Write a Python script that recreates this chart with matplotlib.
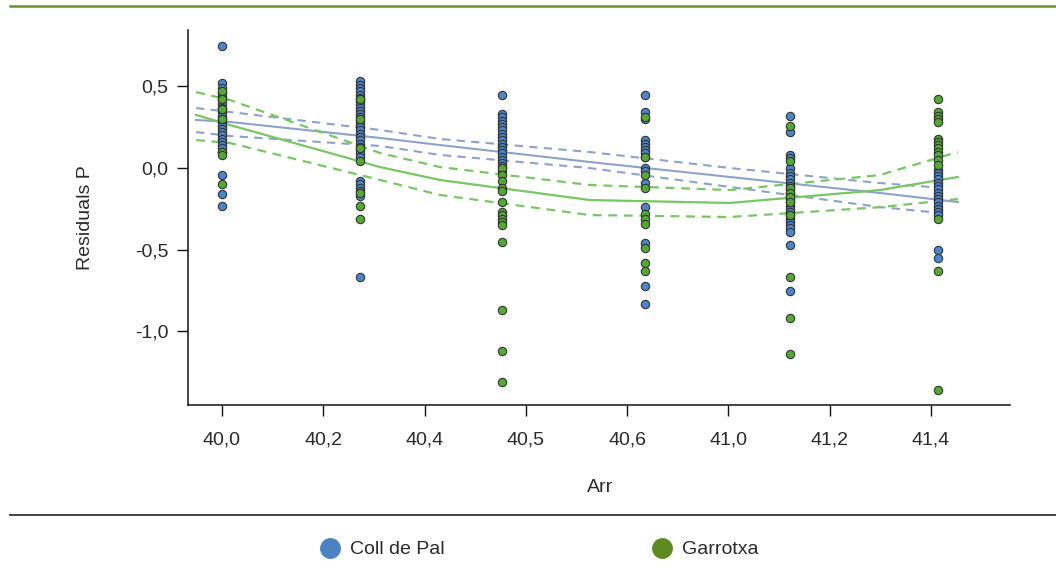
import matplotlib
matplotlib.use("Agg")
import matplotlib.pyplot as plt
from matplotlib.lines import Line2D
import numpy as np

plt.rcParams['font.family'] = ['Liberation Sans', 'DejaVu Sans']

# x positions of the six sample columns
col_x = [40.0, 40.272, 40.553, 40.835, 41.121, 41.413]

coll_de_pal = [
    [0.75, 0.52, 0.49, 0.46, 0.44, 0.42, 0.39, 0.37, 0.34, 0.32, 0.30, 0.28, 0.26,
     0.24, 0.22, 0.20, 0.18, 0.16, 0.14, 0.12, 0.10, -0.04, -0.16, -0.23],
    [0.53, 0.51, 0.49, 0.47, 0.45, 0.43, 0.41, 0.39, 0.37, 0.35, 0.33, 0.31, 0.29,
     0.27, 0.25, 0.23, 0.21, 0.19, 0.17, 0.15, 0.13, 0.11, 0.09, 0.07, -0.08, -0.10,
     -0.12, -0.14, -0.17, -0.67],
    [0.45, 0.33, 0.31, 0.29, 0.27, 0.25, 0.23, 0.21, 0.19, 0.17, 0.15, 0.13, 0.11,
     0.09, 0.07, 0.05, 0.03, 0.01, -0.02],
    [0.45, 0.34, 0.30, 0.17, 0.15, 0.13, 0.11, 0.09, 0.07, 0.0, -0.02, -0.09, -0.24,
     -0.46, -0.72, -0.83],
    [0.32, 0.22, 0.08, 0.06, 0.0, -0.03, -0.05, -0.07, -0.09, -0.11, -0.13, -0.15,
     -0.17, -0.19, -0.21, -0.23, -0.25, -0.27, -0.29, -0.31, -0.33, -0.35, -0.37,
     -0.39, -0.47, -0.75],
    [-0.01, -0.03, -0.05, -0.07, -0.09, -0.11, -0.13, -0.15, -0.17, -0.19, -0.21,
     -0.23, -0.25, -0.27, -0.29, -0.50, -0.55],
]
garrotxa = [
    [0.47, 0.42, 0.36, 0.30, 0.10, 0.08, -0.10],
    [0.42, 0.30, 0.12, 0.04, -0.15, -0.23, -0.31],
    [0.0, -0.04, -0.08, -0.12, -0.14, -0.21, -0.27, -0.29, -0.31, -0.33, -0.35,
     -0.45, -0.87, -1.12, -1.31],
    [0.31, 0.07, -0.04, -0.12, -0.28, -0.31, -0.34, -0.49, -0.58, -0.63],
    [0.26, 0.04, -0.12, -0.15, -0.18, -0.21, -0.29, -0.67, -0.92, -1.14],
    [0.42, 0.34, 0.32, 0.30, 0.28, 0.18, 0.16, 0.14, 0.12, 0.10, 0.08, 0.05, 0.02,
     -0.31, -0.63, -1.36],
]

# fitted curves and confidence bands
fit_x = [39.949, 40.016, 40.312, 40.430, 40.726, 41.003, 41.299, 41.453]
blue_fit = [0.294, 0.282, 0.184, 0.141, 0.037, -0.055, -0.153, -0.208]
band_x_blue = [39.949, 40.016, 40.312, 40.430, 40.726, 41.003, 41.299, 41.398]
blue_up = [0.367, 0.343, 0.233, 0.178, 0.098, 0.0, -0.092, -0.116]
blue_lo = [0.220, 0.196, 0.135, 0.080, 0.0, -0.116, -0.239, -0.269]
green_fit = [0.325, 0.263, 0.006, -0.073, -0.196, -0.214, -0.135, -0.055]
green_up = [0.465, 0.416, 0.092, 0.006, -0.104, -0.135, -0.043, 0.098]
green_lo = [0.171, 0.153, -0.073, -0.165, -0.288, -0.300, -0.240, -0.190]

xtick_pos = [40.0, 40.2, 40.4, 40.6, 40.8, 41.0, 41.2, 41.4]
xtick_labels = ['40,0', '40,2', '40,4', '40,5', '40,6', '41,0', '41,2', '41,4']
ytick_pos = [0.5, 0.0, -0.5, -1.0]
ytick_labels = ['0,5', '0,0', '-0,5', '-1,0']

blue = '#4a86c8'
green = '#55a833'
blue_line = '#8ea2c8'
green_line = '#78c664'
txt = '#2a2a2a'

fig = plt.figure(figsize=(10.56, 5.73), dpi=100)
ax = fig.add_axes([188 / 1056, 1 - 405 / 573, (1010 - 188) / 1056, (405 - 30) / 573])

ax.plot(fit_x, blue_fit, color=blue_line, lw=1.5, zorder=2)
ax.plot(band_x_blue, blue_up, color=blue_line, lw=1.5, ls=(0, (4, 3)), zorder=2)
ax.plot(band_x_blue, blue_lo, color=blue_line, lw=1.5, ls=(0, (4, 3)), zorder=2)
ax.plot(fit_x, green_fit, color=green_line, lw=1.6, zorder=2)
ax.plot(fit_x, green_up, color=green_line, lw=1.6, ls=(0, (4, 3)), zorder=2)
ax.plot(fit_x, green_lo, color=green_line, lw=1.6, ls=(0, (4, 3)), zorder=2)

for x, vals in zip(col_x, coll_de_pal):
    ax.scatter(np.full(len(vals), x), vals, s=36, c=blue, edgecolors='#333333',
               linewidths=0.8, zorder=3)
for x, vals in zip(col_x, garrotxa):
    ax.scatter(np.full(len(vals), x), vals, s=36, c=green, edgecolors='#333333',
               linewidths=0.8, zorder=4)

ax.set_xlim(39.933, 41.556)
ax.set_ylim(-1.451, 0.845)
ax.set_xticks(xtick_pos)
ax.set_xticklabels(xtick_labels)
ax.set_yticks(ytick_pos)
ax.set_yticklabels(ytick_labels)
ax.tick_params(direction='out', length=8, width=1.0, colors='#111111',
               labelsize=14, labelcolor=txt, pad=6)
ax.tick_params(axis='x', pad=11)
for side in ['top', 'right']:
    ax.spines[side].set_visible(False)
for side in ['left', 'bottom']:
    ax.spines[side].set_linewidth(1.1)
    ax.spines[side].set_color('#111111')

fig.text(600 / 1056, 1 - 488 / 573, 'Arr', ha='center', va='center', fontsize=14, color=txt)
fig.text(86 / 1056, 1 - 218 / 573, 'Residuals P', ha='center', va='center',
         rotation=90, fontsize=14, color=txt)

# decorative rules
fig.add_artist(Line2D([10 / 1056, 1], [1 - 6 / 573] * 2, transform=fig.transFigure,
                      color='#6b9230', lw=1.8))
fig.add_artist(Line2D([10 / 1056, 1], [1 - 515 / 573] * 2, transform=fig.transFigure,
                      color='#333333', lw=1.3))

# legend
legend_items = [('Coll de Pal', '#4a82c4', 330), ('Garrotxa', '#5f8a22', 662)]
for name, col, px in legend_items:
    fig.add_artist(Line2D([px / 1056], [1 - 548 / 573], transform=fig.transFigure,
                          marker='o', markersize=14, color=col, ls='none'))
    fig.text((px + 20) / 1056, 1 - 549 / 573, name, ha='left', va='center',
             fontsize=14, color=txt)

fig.savefig('out.png', dpi=100)
